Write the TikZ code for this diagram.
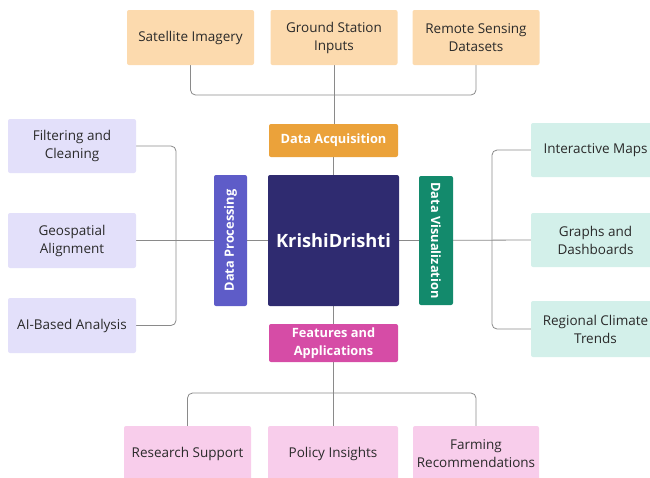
\documentclass[tikz,border=0pt]{standalone}
\usepackage{fontspec}
\setmainfont{Open Sans}
\usetikzlibrary{backgrounds}
\definecolor{peach}{HTML}{FCDAAE}
\definecolor{orangeL}{HTML}{EBA23A}
\definecolor{lav}{HTML}{E3E0FA}
\definecolor{procC}{HTML}{5E5CC8}
\definecolor{coreC}{HTML}{2F2B70}
\definecolor{visC}{HTML}{138A6C}
\definecolor{mint}{HTML}{D3F0EA}
\definecolor{featC}{HTML}{D64CA6}
\definecolor{pinkL}{HTML}{F8CDEB}
\definecolor{lineC}{HTML}{8A8A8A}
\definecolor{txtC}{HTML}{2A2A2A}
\tikzset{
  leaf/.style={rounded corners=2pt, inner sep=0pt, align=center, text=txtC,
    font=\fontsize{13.5}{18}\selectfont, minimum width=127pt, minimum height=55pt},
  hub/.style={rounded corners=2pt, inner sep=0pt, align=center, text=white,
    font=\fontsize{12.8}{18}\selectfont\bfseries},
  conn/.style={draw=lineC, line width=0.8pt, rounded corners=5pt},
}
\begin{document}
\begin{tikzpicture}[x=1pt,y=-1pt]
\useasboundingbox (0,0) rectangle (650,477);
\clip (0,0) rectangle (650,477);
% top
\node[leaf, fill=peach] (sat) at (190.5,37.5) {Satellite Imagery};
\node[leaf, fill=peach] (gnd) at (334,37.5) {Ground Station\\Inputs};
\node[leaf, fill=peach] (rem) at (476,37.5) {Remote Sensing\\Datasets};
% hubs
\node[hub, fill=orangeL, minimum width=129pt, minimum height=33pt] (da) at (333.5,140.5) {Data Acquisition};
\node[rounded corners=2pt, inner sep=0pt, fill=coreC, text=white, minimum width=131pt, minimum height=131pt,
  font=\fontsize{18.3}{22}\selectfont\bfseries] (kd) at (333.5,240.5) {KrishiDrishti};
\node[hub, fill=procC, minimum width=131pt, minimum height=33pt, rotate=90] (dp) at (230.5,240.5) {Data Processing};
\node[hub, fill=visC, minimum width=129pt, minimum height=34pt, rotate=-90] (dv) at (436,240.5) {Data Visualization};
\node[hub, fill=featC, minimum width=129pt, minimum height=38pt] (fa) at (333.5,343) {Features and\\Applications};
% left
\node[leaf, fill=lav, minimum width=128pt, minimum height=54pt] (flt) at (72,146) {Filtering and\\Cleaning};
\node[leaf, fill=lav, minimum width=128pt] (geo) at (72,240.5) {Geospatial\\Alignment};
\node[leaf, fill=lav, minimum width=128pt] (ai) at (72,325.5) {AI-Based Analysis};
% right
\node[leaf, fill=mint, minimum width=129pt, minimum height=54pt] (im) at (595.5,150) {Interactive Maps};
\node[leaf, fill=mint, minimum width=129pt, minimum height=54pt] (gd) at (595.5,240) {Graphs and\\Dashboards};
\node[leaf, fill=mint, minimum width=129pt, minimum height=56pt] (rc) at (595.5,329) {Regional Climate\\Trends};
% bottom
\node[leaf, fill=pinkL, minimum height=56pt] (rs) at (187.5,454) {Research Support};
\node[leaf, fill=pinkL, minimum width=130pt, minimum height=56pt] (pi) at (333,454) {Policy Insights};
\node[leaf, fill=pinkL, minimum width=126pt, minimum height=56pt] (fr) at (476,454) {Farming\\Recommendations};
% connectors
\coordinate (tb) at (333.5,95);
\coordinate (bb) at (333.5,393);
\coordinate (lb) at (176,240.5);
\coordinate (rb) at (492,240.5);
\begin{scope}[on background layer]
\draw[conn] (sat.south) |- (tb) -| (rem.south);
\draw[conn] (gnd.south) -- (gnd.south |- da.north);
\draw[conn] (da.south) -- (kd.north);
\draw[conn] (kd.south) -- (fa.north);
\draw[conn] (fa.south) -- (fa.south |- pi.north);
\draw[conn] (rs.north) |- (bb) -| (fr.north);
\draw[conn] (kd.west) -- (geo.east);
\draw[conn] (flt.east) -| (lb) |- (ai.east);
\draw[conn] (kd.east) -- (gd.west);
\draw[conn] (im.west) -| (rb) |- (rc.west);
\end{scope}
\end{tikzpicture}
\end{document}
